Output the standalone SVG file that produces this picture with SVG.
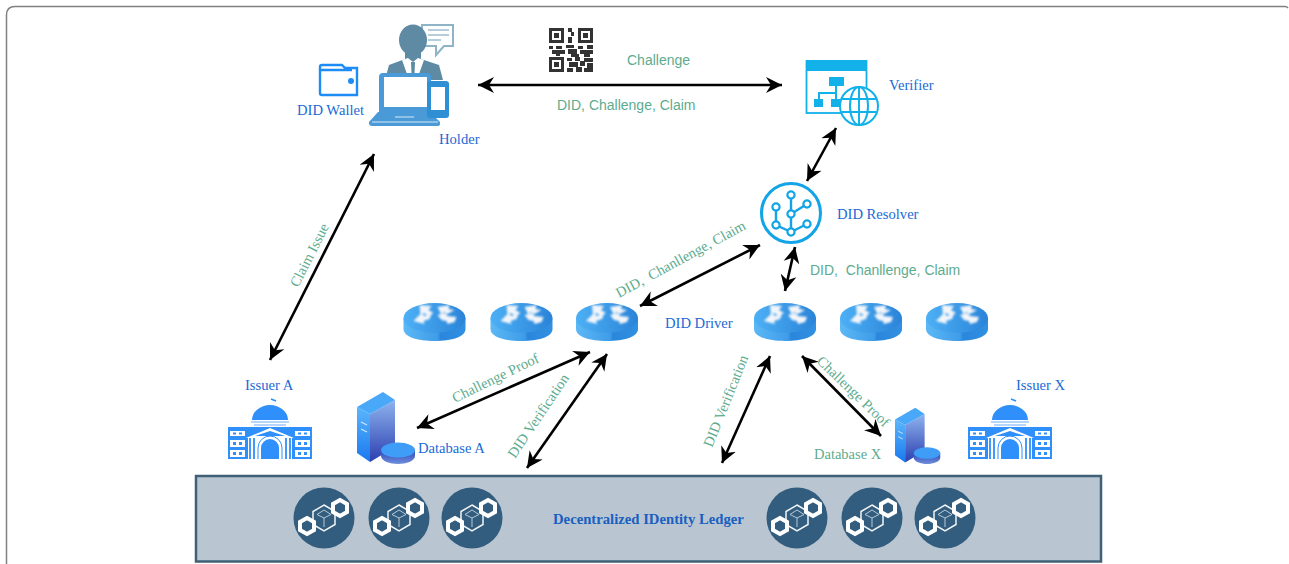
<svg xmlns="http://www.w3.org/2000/svg" width="1289" height="564" viewBox="0 0 1289 564">
<style>
.blue{font-family:"Liberation Serif",serif;font-size:14.6px;fill:#1a6ad6}
.gs{font-family:"Liberation Sans",sans-serif;font-size:14px;fill:#5dab8e}
.gr{font-family:"Liberation Serif",serif;font-size:14.5px;fill:#5dab8e}
.arrow{stroke:#000;stroke-width:2.6;fill:none;marker-start:url(#ah);marker-end:url(#ah)}
.cy{fill:none;stroke:#12b1ea;stroke-width:2}
.cyf{fill:#12b1ea}
</style>
<defs>
<filter id="soft" x="-20%" y="-20%" width="140%" height="140%"><feGaussianBlur stdDeviation=".9"/></filter>
<marker id="ah" markerUnits="userSpaceOnUse" markerWidth="18" markerHeight="18" refX="16" refY="8" orient="auto-start-reverse" viewBox="0 0 18 16"><path d="M0 0L16 8L0 16L5 8Z" fill="#000"/></marker>
<linearGradient id="rt" x1="0" x2="1" y1="0" y2="0"><stop offset="0" stop-color="#5cb8f5"/><stop offset=".55" stop-color="#3f9ce8"/><stop offset=".6" stop-color="#2a86dc"/><stop offset="1" stop-color="#3190e2"/></linearGradient>
<linearGradient id="rtt" x1="0" x2="1" y1="0" y2="0"><stop offset="0" stop-color="#4db0f5"/><stop offset="1" stop-color="#2a83d8"/></linearGradient>
<linearGradient id="sv" x1="0" x2="0" y1="0" y2="1"><stop offset="0" stop-color="#8fb4ee"/><stop offset="1" stop-color="#2c3fb0"/></linearGradient>
<linearGradient id="sl" x1="0" x2="0" y1="0" y2="1"><stop offset="0" stop-color="#5cb6fb"/><stop offset="1" stop-color="#1a78f0"/></linearGradient>
<linearGradient id="dk" x1="0" x2="0" y1="0" y2="1"><stop offset="0" stop-color="#2c46b8"/><stop offset="1" stop-color="#6f8fdc"/></linearGradient>
<symbol id="router" overflow="visible">
<path d="M-31 -4V7C-31 15-17 19 0 19S31 15 31 7V-4Z" fill="url(#rt)"/>
<ellipse cx="0" cy="-4" rx="31" ry="15" fill="url(#rtt)"/>
<path filter="url(#soft)" d="M-15 -17L-3 -16L-6 -12L-1 -9L-6 -6L-11 -9L-14 -6Z M3 -15L15 -17L14 -13L20 -12L13 -8L9 -10L7 -7Z M-21 -1L-13 -9L-10 -6L-3 -8L-5 -3L-11 -1L-10 2Z M3 -7L11 -9L13 -6L22 -5L20 0L13 2L12 -1L7 -2Z" fill="#f2f5fa"/>
</symbol>
<symbol id="chain" overflow="visible">
<circle r="30.500" fill="#325d7e"/>
<path d="M0 -13L11 -6.500V6.500L0 13L-11 6.500V-6.500Z" fill="none" stroke="#f2f5f8" stroke-width="1.500"/>
<path d="M-7 -3.500L0 0L7 -3.500M0 0V9M0 -8L7 -3.500M0 -8L-7 -3.500" fill="none" stroke="#b8cad8" stroke-width="1"/>
<path d="M16 -18L23 -14V-6L16 -2L9 -6V-14Z" fill="#325d7e" stroke="#fff" stroke-width="4"/>
<path d="M-17 0L-10 4V12L-17 16L-24 12V4Z" fill="#325d7e" stroke="#fff" stroke-width="4"/>
</symbol>
<symbol id="issuer" overflow="visible">
<path d="M43 1l5 2" stroke="#2f8ffb" stroke-width="1.600"/>
<path d="M24 22A18 15 0 0 1 60 22Z" fill="#2f8ffb"/>
<path d="M23 24H61M26 27H58" stroke="#9cc8fb" stroke-width="1.500"/>
<rect x="0" y="29" width="84" height="32" fill="#2f8ffb"/>
<path d="M18 40L42 30L66 40Z" fill="#fff"/>
<path d="M27 38L42 33L57 38Z" fill="#2f8ffb"/>
<rect x="20" y="40" width="44" height="21" fill="#fff"/>
<path d="M33 61V50A9 9 0 0 1 51 50V61Z" fill="#2f8ffb"/>
<path d="M30 61V50A12 12 0 0 1 54 50V61" fill="none" stroke="#2f8ffb" stroke-width="1"/>
<path d="M22 40V61M26 40V61M58 40V61M62 40V61" stroke="#2f8ffb" stroke-width="1.800"/>
<g fill="#fff"><rect x="2" y="33" width="15" height="5"/><rect x="2" y="42" width="15" height="7"/><rect x="2" y="52" width="15" height="7"/><rect x="67" y="33" width="15" height="5"/><rect x="67" y="42" width="15" height="7"/><rect x="67" y="52" width="15" height="7"/></g>
<g fill="#2f8ffb"><rect x="5" y="34.500" width="3" height="2"/><rect x="11" y="34.500" width="3" height="2"/><rect x="5" y="44" width="3" height="3"/><rect x="11" y="44" width="3" height="3"/><rect x="5" y="54" width="3" height="3"/><rect x="11" y="54" width="3" height="3"/><rect x="70" y="34.500" width="3" height="2"/><rect x="76" y="34.500" width="3" height="2"/><rect x="70" y="44" width="3" height="3"/><rect x="76" y="44" width="3" height="3"/><rect x="70" y="54" width="3" height="3"/><rect x="76" y="54" width="3" height="3"/></g>
</symbol>
<symbol id="server" overflow="visible">
<path d="M0 16L13 23V71L0 62Z" fill="url(#sl)"/>
<path d="M13 23L38 9V56L13 71Z" fill="url(#sv)"/>
<path d="M0 16L26 1L38 9L13 23Z" fill="#4aa8f8"/>
<path d="M4 31L10 34M4 38L10 41" stroke="#cfe3fb" stroke-width="1.200"/>
<path d="M24 59V65C24 70 33 73 41 73S58 70 58 65V59Z" fill="url(#dk)"/>
<ellipse cx="41" cy="59" rx="17" ry="7.500" fill="#3f9df7"/>
</symbol>
</defs>
<rect width="1289" height="564" fill="#fff"/>
<path id="frame" d="M6.500 564V15Q6.500 6.500 15 6.500H1285Q1287 6.500 1288 8" fill="none" stroke="#808080" stroke-width="1.500"/>

<g id="ledger">
<rect x="196" y="476" width="905" height="85.500" fill="#b9c6d1" stroke="#3f6076" stroke-width="2.500"/>
<use href="#chain" x="324" y="518"/><use href="#chain" x="399" y="518"/><use href="#chain" x="472" y="518"/>
<use href="#chain" x="797" y="518"/><use href="#chain" x="872" y="518"/><use href="#chain" x="945" y="518"/>
<text x="553" y="524" font-family="Liberation Serif, serif" font-size="14.700" font-weight="700" fill="#1a5fc0">Decentralized IDentity Ledger</text>
</g>

<g id="connectors">
<path class="arrow" d="M478 85H782"/>
<path class="arrow" d="M374 154L270 360"/>
<path class="arrow" d="M836 128L807 181"/>
<path class="arrow" d="M760 245L640 306"/>
<path class="arrow" d="M795 247L785 291"/>
<path class="arrow" d="M590 352L417 428"/>
<path class="arrow" d="M607 354L527 468"/>
<path class="arrow" d="M770 356L722 463"/>
<path class="arrow" d="M802 356L881 436"/>
</g>

<g id="holder">
<path d="M422 25H453V46H444L436 55V46H422Z" fill="#fff" stroke="#8fb4c8" stroke-width="2"/>
<path d="M428 30H449M428 35H449M428 40H441" stroke="#9fbed0" stroke-width="1.300"/>
<ellipse cx="413" cy="40" rx="14" ry="15.500" fill="#5f8aa3"/>
<path d="M405 50V59L389 65L385 80H443L439 65L421 59V50Z" fill="#5f8aa3"/>
<path d="M402 60L408 58L413 62L418 58L424 60L419 74H407Z" fill="#fff"/>
<path d="M411 62H415L414.500 74H411.500Z" fill="#5f8aa3"/>
<rect x="379" y="73" width="52" height="42" rx="4" fill="#4a9ad8"/>
<rect x="384" y="77" width="43" height="30" fill="#fff"/>
<path d="M378 112H430L440 122V124Q440 126 437 126H372Q369 126 369 123V122Z" fill="#4a9ad8"/>
<path d="M395 117H414M372 122H438" stroke="#d6e8f6" stroke-width="1.200"/>
<rect x="427" y="81" width="22" height="37" rx="3" fill="#2f8fd4"/>
<rect x="431" y="87" width="14" height="23" fill="#fff"/>
<text class="blue" x="439" y="144">Holder</text>
</g>
<g id="wallet">
<path d="M320 67V93Q320 95 322 95H357V68H345L342 65H322Q320 65 320 67Z M320 70H352" fill="#fff" stroke="#1d8cf5" stroke-width="2.400"/>
<circle cx="351" cy="81" r="3" fill="#1d8cf5"/>
<text class="blue" x="297" y="115">DID Wallet</text>
</g>
<g id="qr">
<path fill="#333" d="M549 28h15v15h-15zM578 28h15v15h-15zM549 57h15v15h-15z"/>
<path fill="#fff" d="M552 31h9v9h-9zM581 31h9v9h-9zM552 60h9v9h-9z"/>
<path fill="#333" d="M554 33h5v5h-5zM583 33h5v5h-5zM554 62h5v5h-5z"/>
<path fill="#333" d="M568 28h4v4h-4zM571 32h3v4h-3zM568 37h4v6h-4zM549 46h4v3h-4zM556 46h6v3h-6zM566 45h8v3h-8zM578 46h5v3h-5zM587 45h6v4h-6zM552 50h13v4h-13zM568 49h9v5h-9zM580 50h13v4h-13zM556 54h4v2h-4zM571 54h8v3h-8zM584 54h6v3h-6zM567 58h5v3h-5zM575 57h5v4h-5zM584 58h9v4h-9zM569 62h9v5h-9zM580 61h5v5h-5zM587 63h6v5h-6zM567 68h6v4h-6zM576 67h6v5h-6zM584 68h9v4h-9z"/>
</g>
<text class="gs" x="627" y="65">Challenge</text>
<text class="gs" x="557" y="110">DID, Challenge, Claim</text>

<g id="verifier">
<rect x="806.500" y="61" width="60" height="52" fill="#fff" stroke="#12b1ea" stroke-width="1.800"/>
<rect x="806" y="60" width="61" height="11" class="cyf"/>
<rect x="829" y="77" width="15" height="9" class="cyf"/>
<rect x="814" y="99" width="9" height="8" class="cyf"/>
<rect x="831" y="99" width="9" height="8" class="cyf"/>
<path d="M836 86V93H819V99M836 93V99" class="cy" stroke-width="1.400"/>
<circle cx="859" cy="106" r="19" fill="#fff" stroke="#12b1ea" stroke-width="2"/>
<ellipse cx="859" cy="106" rx="9" ry="19" class="cy" stroke-width="1.500"/>
<path d="M859 87V125M842 99H876M842 112H876" class="cy" stroke-width="1.500"/>
<text class="blue" x="889" y="90">Verifier</text>
</g>

<g id="resolver">
<circle cx="791" cy="213" r="29.500" fill="#fff" stroke="#12a4e6" stroke-width="3"/>
<path d="M791 198V232M791 214L807 204M776 207V225L791 232L807 224" fill="none" stroke="#12a4e6" stroke-width="2.400"/>
<g fill="#fff" stroke="#12a4e6" stroke-width="2.200"><circle cx="791" cy="195" r="3.600"/><circle cx="791" cy="214" r="3.600"/><circle cx="791" cy="232" r="3.600"/><circle cx="776" cy="207" r="3.600"/><circle cx="776" cy="225" r="3.600"/><circle cx="807" cy="204" r="3.600"/><circle cx="807" cy="224" r="3.600"/></g>
<text class="blue" x="837" y="219">DID Resolver</text>
</g>

<g id="routers">
<use href="#router" x="434.500" y="322"/><use href="#router" x="521.500" y="322"/><use href="#router" x="607" y="322"/>
<use href="#router" x="785" y="322"/><use href="#router" x="871" y="322"/><use href="#router" x="957" y="322"/>
<text class="blue" x="665" y="328">DID Driver</text>
</g>

<g id="issuerA"><use href="#issuer" x="228" y="398"/><text class="blue" x="245" y="390">Issuer A</text></g>
<g id="issuerX"><use href="#issuer" x="968" y="398"/><text class="blue" x="1016" y="390">Issuer X</text></g>
<g id="databaseA"><use href="#server" x="357" y="391"/><text class="blue" x="418" y="453">Database A</text></g>
<g id="databaseX"><use href="#server" x="895" y="407" transform="translate(895 407) scale(.78) translate(-895 -407)"/><text class="gr" x="814" y="459">Database X</text></g>

<text class="gr" transform="translate(298 288) rotate(-63)">Claim Issue</text>
<text class="gr" xml:space="preserve" transform="translate(619 298) rotate(-28.500)">DID,  Chanllenge, Claim</text>
<text class="gs" xml:space="preserve" x="810" y="275" font-size="12.450">DID,  Chanllenge, Claim</text>
<text class="gr" transform="translate(455 403) rotate(-26)">Challenge Proof</text>
<text class="gr" transform="translate(515 459) rotate(-56)">DID Verification</text>
<text class="gr" transform="translate(712 448) rotate(-68)">DID Verification</text>
<text class="gr" transform="translate(816 362) rotate(44)">Challenge Proof</text>
</svg>
